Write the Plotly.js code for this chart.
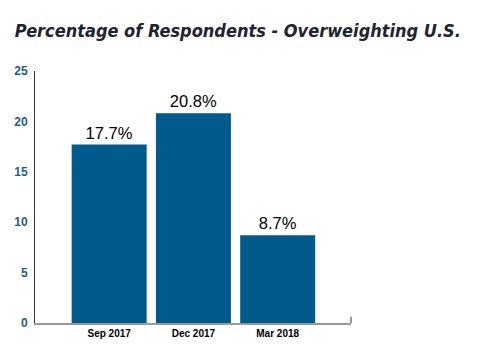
<!DOCTYPE html>
<html><head><meta charset="utf-8">
<script src="https://cdn.plot.ly/plotly-3.0.1.min.js"></script>
<style>body{margin:0;background:#fff}#chart{width:492px;height:355px}</style>
</head><body><div id="chart"></div>
<script>
const categories = ["Sep 2017", "Dec 2017", "Mar 2018"];
const values = [17.7, 20.8, 8.7];
const yTicks = [0, 5, 10, 15, 20, 25];

const trace = {
  type: 'bar', x: categories, y: values,
  marker: {color: '#005a8c'},
  text: values.map(v => v.toFixed(1) + '%'),
  textposition: 'outside', cliponaxis: false,
  textfont: {family: 'Liberation Sans, Arial, sans-serif', size: 16.5, color: '#000'},
  hoverinfo: 'none'
};
const layout = {
  width: 492, height: 355,
  margin: {l: 35, r: 141, t: 71, b: 32},
  paper_bgcolor: '#fff', plot_bgcolor: '#fff',
  showlegend: false, bargap: 0.11,
  title: {text: '<b><i>Percentage of Respondents - Overweighting U.S.</i></b>',
    font: {family: 'DejaVu Sans Condensed, DejaVu Sans, sans-serif', stretch: 'condensed', size: 18, color: '#1f2433'},
    x: 0.03, xanchor: 'left', y: 0.913, yanchor: 'middle'},
  xaxis: {type: 'category', range: [-0.88, 2.87], showline: true, linecolor: '#999', linewidth: 2,
    ticks: '', showgrid: false, zeroline: false,
    tickfont: {family: 'Liberation Sans, Arial, sans-serif', size: 10, color: '#000', weight: 'bold'}},
  yaxis: {range: [0, 25], tickvals: yTicks, showline: true, linecolor: '#333', linewidth: 1,
    ticks: '', showgrid: false, zeroline: false, ticklabelstandoff: 4,
    tickfont: {family: 'Liberation Sans, Arial, sans-serif', size: 12, color: '#1d5c8f', weight: 'bold'}},
  shapes: [{type: 'line', xref: 'paper', yref: 'paper', x0: 1, x1: 1, y0: 0, y1: 0.025,
    line: {color: '#999', width: 2}}]
};
Plotly.newPlot('chart', [trace], layout, {displayModeBar: false, staticPlot: true});
</script></body></html>
